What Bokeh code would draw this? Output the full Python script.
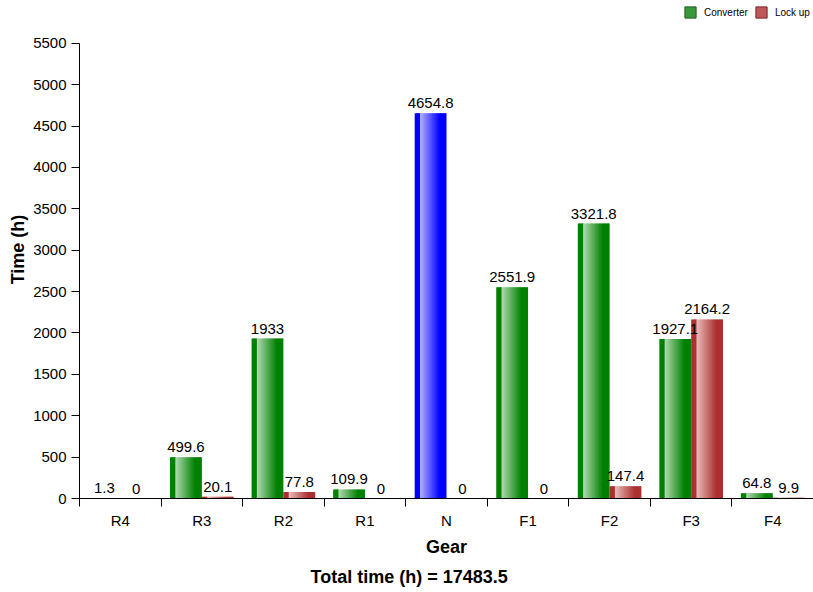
from bokeh.plotting import figure
from bokeh.models import (ColumnDataSource, FixedTicker, Range1d, Title, Legend, LegendItem)
from bokeh.core.properties import value
from bokeh.embed import file_html
from bokeh.resources import INLINE

gears = ["R4", "R3", "R2", "R1", "N", "F1", "F2", "F3", "F4"]
converter = [1.3, 499.6, 1933, 109.9, 4654.8, 2551.9, 3321.8, 1927.1, 64.8]
lockup = [0, 20.1, 77.8, 0, 0, 0, 147.4, 2164.2, 9.9]
total_label = "Total time (h) = 17483.5"
y_ticks = list(range(0, 5501, 500))

FONT = "Liberation Sans"
BAR_W = 0.39
NSLICE = 24
INK = "#000000"

GREEN = ((0, 128, 0), (178, 218, 178))
RED = ((172, 48, 48), (234, 188, 188))
BLUE = ((0, 0, 255), (178, 178, 255))


def shade(pair, t):
    dark, light = pair
    if t < 0.17:
        c = dark
    else:
        s = min(1.0, (t - 0.17) / 0.62)
        c = tuple(int(round(l * (1 - s) + d * s)) for d, l in zip(dark, light))
    return "#%02x%02x%02x" % c


# frame spans full height so the legend can sit inside it; axis bounded to 0..5500
Y_END = 5500 * 500 / 457.0

p = figure(width=813, height=592, output_backend="svg", toolbar_location=None,
           x_range=Range1d(0, 9), y_range=Range1d(0, Y_END),
           min_border_left=79, min_border_right=0, min_border_top=0, min_border_bottom=92)
p.outline_line_color = None
p.xgrid.visible = False
p.ygrid.visible = False

# gradient bars drawn as slices
L, R, T, C = [], [], [], []
sw = BAR_W / NSLICE
for i, g in enumerate(gears):
    center = i + 0.5
    for series, vals in (("conv", converter), ("lock", lockup)):
        v = vals[i]
        if series == "conv":
            pair = BLUE if g == "N" else GREEN
            left = center - BAR_W
        else:
            pair = RED
            left = center
        for k in range(NSLICE):
            t = (k + 0.5) / NSLICE
            l0 = left + sw * k
            r0 = min(left + BAR_W, l0 + sw * 1.6)
            L.append(l0)
            R.append(r0)
            T.append(v)
            C.append(shade(pair, t))

src = ColumnDataSource(dict(left=L, right=R, top=T, color=C))
p.quad(left="left", right="right", top="top", bottom=0, fill_color="color",
       line_color=None, source=src)

# value labels
lx, ly, lt = [], [], []
for i in range(len(gears)):
    c = i + 0.5
    lx += [c - BAR_W / 2, c + BAR_W / 2]
    ly += [converter[i], lockup[i]]
    lt += ["%g" % converter[i], "%g" % lockup[i]]
lsrc = ColumnDataSource(dict(x=lx, y=ly, t=lt))
p.text(x="x", y="y", text="t", source=lsrc, text_align="center", text_baseline="bottom",
       y_offset=-5, text_font=value(FONT), text_font_size="15px", text_color=INK)

# legend dummies
r_conv = p.vbar(x=[-5], top=[0], width=0.1, fill_color="#3a9a3a", line_color="#1f5f1f")
r_lock = p.vbar(x=[-5], top=[0], width=0.1, fill_color="#c05a5a", line_color="#7a2020")
legend = Legend(items=[LegendItem(label="Converter", renderers=[r_conv]),
                       LegendItem(label="Lock up", renderers=[r_lock])],
                orientation="horizontal", location=(604, 479),
                label_text_font=FONT, label_text_font_size="10px", label_text_color=INK,
                glyph_width=14, glyph_height=14, label_standoff=7, spacing=6,
                padding=0, margin=0, border_line_color=None, background_fill_alpha=0)
p.add_layout(legend, "center")

# axes
p.yaxis.ticker = FixedTicker(ticks=y_ticks)
p.yaxis.bounds = (0, 5500)
p.yaxis.axis_label = "Time (h)"
p.yaxis.axis_label_text_font = FONT
p.yaxis.axis_label_text_font_style = "bold"
p.yaxis.axis_label_text_font_size = "18px"
p.yaxis.axis_label_text_color = INK
p.yaxis.axis_label_standoff = 2
p.yaxis.major_label_text_font = FONT
p.yaxis.major_label_text_font_size = "15px"
p.yaxis.major_label_text_color = INK
p.yaxis.major_label_standoff = 5
p.yaxis.major_tick_out = 8
p.yaxis.major_tick_in = 0
p.yaxis.minor_tick_line_color = None
p.yaxis.axis_line_color = INK
p.yaxis.major_tick_line_color = INK

p.xaxis.ticker = FixedTicker(ticks=[i + 0.5 for i in range(len(gears))],
                             minor_ticks=list(range(len(gears) + 1)))
p.xaxis.major_label_overrides = {i + 0.5: g for i, g in enumerate(gears)}
p.xaxis.major_tick_out = 0
p.xaxis.major_tick_in = 0
p.xaxis.minor_tick_out = 8
p.xaxis.minor_tick_in = 0
p.xaxis.major_label_standoff = 5
p.xaxis.major_label_text_font = FONT
p.xaxis.major_label_text_font_size = "15px"
p.xaxis.major_label_text_color = INK
p.xaxis.axis_label = "Gear"
p.xaxis.axis_label_text_font = FONT
p.xaxis.axis_label_text_font_style = "bold"
p.xaxis.axis_label_text_font_size = "18px"
p.xaxis.axis_label_text_color = INK
p.xaxis.axis_label_standoff = 5
p.xaxis.axis_line_color = INK
p.xaxis.minor_tick_line_color = INK

p.add_layout(Title(text=total_label, align="left", offset=231, text_font=FONT,
                   text_font_style="bold", text_font_size="18px", text_color=INK,
                   standoff=11), "below")

open("out.html", "w").write(file_html(p, INLINE))
